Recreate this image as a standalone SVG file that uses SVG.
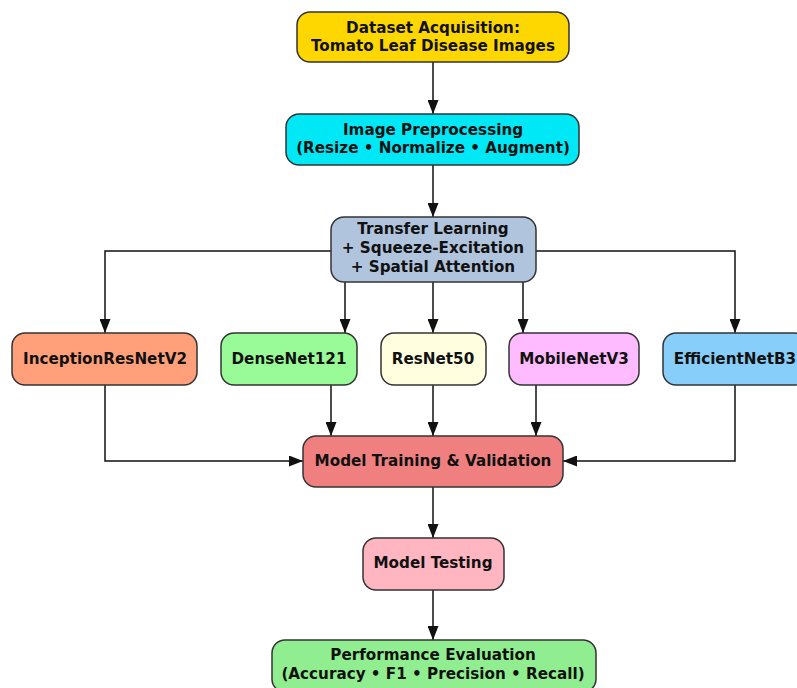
<svg xmlns="http://www.w3.org/2000/svg" width="797" height="688" viewBox="0 0 797 688">
<style>
.n{stroke:#333;stroke-width:1.5}
.t{font-family:"DejaVu Sans",sans-serif;font-weight:bold;font-size:15.2px;fill:#111;text-anchor:middle}
.c{fill:none;stroke:#111;stroke-width:1.5}
</style>
<defs>
<marker id="b" viewBox="0 0 14 11" refX="14" refY="5.5" markerWidth="14" markerHeight="11" markerUnits="userSpaceOnUse" orient="auto">
<path d="M0,0 L14,5.5 L0,11 z" fill="#111"/>
</marker>
</defs>
<rect width="797" height="688" fill="#fff"/>
<g id="connectors">
<path class="c" marker-end="url(#b)" d="M433,62 V114"/>
<path class="c" marker-end="url(#b)" d="M433,165 V217"/>
<path class="c" marker-end="url(#b)" d="M331,251 H105 V333"/>
<path class="c" marker-end="url(#b)" d="M345,282 V333"/>
<path class="c" marker-end="url(#b)" d="M433,282 V333"/>
<path class="c" marker-end="url(#b)" d="M523,282 V333"/>
<path class="c" marker-end="url(#b)" d="M536,251 H735 V333"/>
<path class="c" marker-end="url(#b)" d="M105,385 V461 H303"/>
<path class="c" marker-end="url(#b)" d="M331,385 V436"/>
<path class="c" marker-end="url(#b)" d="M433,385 V436"/>
<path class="c" marker-end="url(#b)" d="M536,385 V436"/>
<path class="c" marker-end="url(#b)" d="M735,385 V461 H563"/>
<path class="c" marker-end="url(#b)" d="M433,487 V538"/>
<path class="c" marker-end="url(#b)" d="M433,590 V640"/>
</g>
<g id="dataset">
<rect class="n" x="297" y="12" width="272" height="50" rx="13" fill="#FFD700"/>
<text class="t" x="433" y="33">Dataset Acquisition:</text>
<text class="t" x="433" y="51">Tomato Leaf Disease Images</text>
</g>
<g id="preprocessing">
<rect class="n" x="286" y="114" width="293" height="51" rx="13" fill="#00E8F5"/>
<text class="t" x="433" y="135">Image Preprocessing</text>
<text class="t" x="433" y="153">(Resize • Normalize • Augment)</text>
</g>
<g id="transfer">
<rect class="n" x="331" y="217" width="205" height="65" rx="13" fill="#B0C4DE"/>
<text class="t" x="433" y="234">Transfer Learning</text>
<text class="t" x="433" y="253">+ Squeeze-Excitation</text>
<text class="t" x="433" y="272">+ Spatial Attention</text>
</g>
<g id="inception">
<rect class="n" x="12" y="333" width="185" height="52" rx="13" fill="#FFA07A"/>
<text class="t" x="105" y="364">InceptionResNetV2</text>
</g>
<g id="densenet">
<rect class="n" x="221" y="333" width="136" height="52" rx="13" fill="#98FB98"/>
<text class="t" x="289" y="364">DenseNet121</text>
</g>
<g id="resnet">
<rect class="n" x="381" y="333" width="105" height="52" rx="13" fill="#FFFFE0"/>
<text class="t" x="433" y="364">ResNet50</text>
</g>
<g id="mobilenet">
<rect class="n" x="509" y="333" width="130" height="52" rx="13" fill="#FFBBFF"/>
<text class="t" x="574" y="364">MobileNetV3</text>
</g>
<g id="efficientnet">
<rect class="n" x="663" y="333" width="144" height="52" rx="13" fill="#87CEFA"/>
<text class="t" x="735" y="364">EfficientNetB3</text>
</g>
<g id="training">
<rect class="n" x="303" y="436" width="260" height="51" rx="13" fill="#F08080"/>
<text class="t" x="433" y="466">Model Training &amp; Validation</text>
</g>
<g id="testing">
<rect class="n" x="363" y="538" width="141" height="52" rx="13" fill="#FFB6C1"/>
<text class="t" x="433" y="568">Model Testing</text>
</g>
<g id="evaluation">
<rect class="n" x="272" y="640" width="324" height="52" rx="13" fill="#90EE90"/>
<text class="t" x="433" y="660">Performance Evaluation</text>
<text class="t" x="433" y="679">(Accuracy • F1 • Precision • Recall)</text>
</g>
</svg>
